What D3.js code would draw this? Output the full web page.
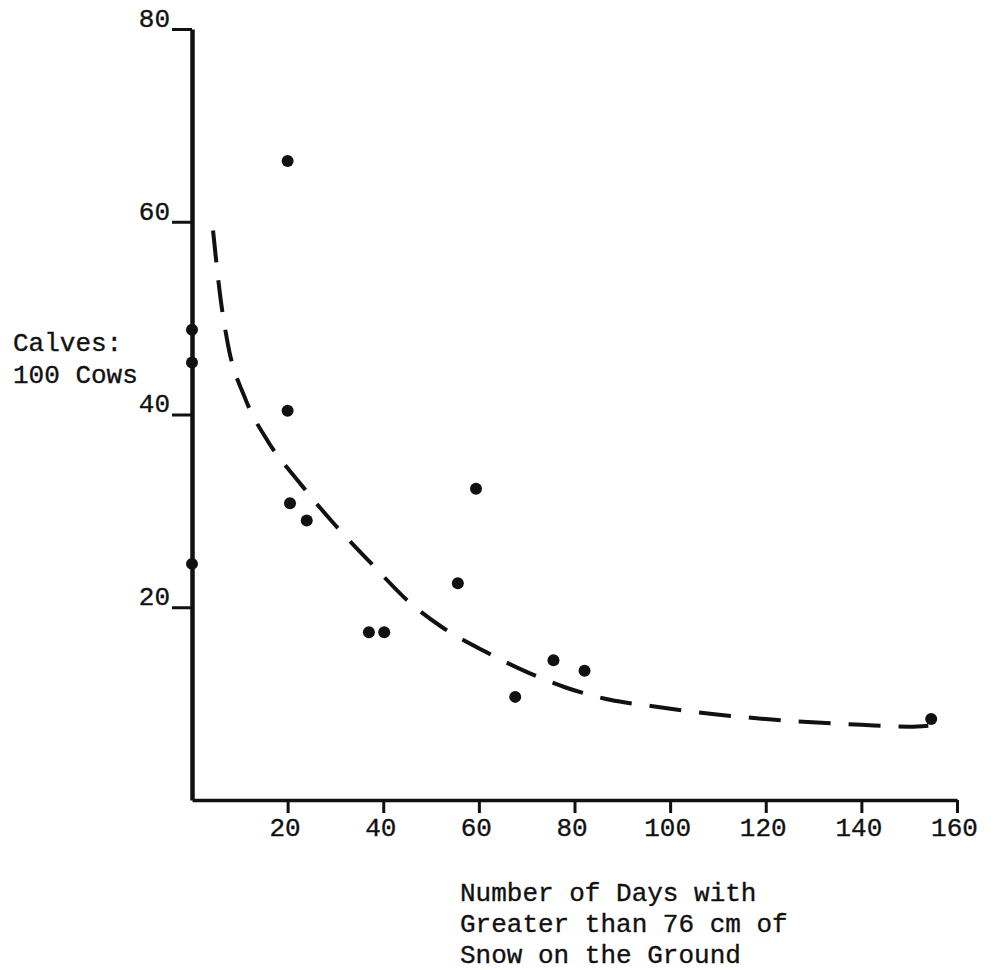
<!DOCTYPE html>
<html>
<head>
<meta charset="utf-8">
<script src="https://d3js.org/d3.v7.min.js"></script>
<style>
  body { margin: 0; background: #fff; }
  text { font-family: "Liberation Mono", "DejaVu Sans Mono", monospace; fill: #111; stroke: #111; stroke-width: 0.35px; }
</style>
</head>
<body>
<div id="scatter"></div>
<script>
// chart data
var daysSnow = [20, 0, 0, 0, 20, 20.5, 24, 37, 40.2, 55.6, 59.4, 67.6, 75.6, 82.1, 154.6];
var calvesPerCow = [66.3, 48.8, 45.4, 24.5, 40.4, 30.8, 29, 17.4, 17.4, 22.5, 32.3, 10.7, 14.5, 13.4, 8.4];

// fitted curve, dashed
var curveX = [4.4, 5.9, 7.5, 11.1, 15.9, 22.2, 29.1, 37.2, 46.2, 52.1, 61.3, 69.5, 78, 87.4, 96, 104, 120, 140, 150, 154];
var curveY = [59.1, 52.3, 47.3, 41.7, 37.2, 33.1, 29, 24.7, 20.2, 18, 15.4, 13.4, 11.7, 10.4, 9.75, 9.2, 8.4, 7.8, 7.6, 7.7];

var xTicks = [20, 40, 60, 80, 100, 120, 140, 160];
var yTicks = [20, 40, 60, 80];

var yLabelLines = ["Calves:", "100 Cows"];
var xLabelLines = ["Number of Days with", "Greater than 76 cm of", "Snow on the Ground"];

// svg size and margins
var svgWidth = 991;
var svgHeight = 970;

var margin = {
    top: 29,
    left: 192,
    right: 34,
    bottom: 170
};

var width = svgWidth - margin.left - margin.right;
var height = svgHeight - margin.top - margin.bottom;

var svg = d3.select("#scatter").append("svg")
    .attr("width", svgWidth)
    .attr("height", svgHeight);

var chartGroup = svg.append("g")
    .attr("transform", `translate(${margin.left}, ${margin.top})`);

// scales
var xLinearScale = d3.scaleLinear().domain([0, 160]).range([0, width]);
var yLinearScale = d3.scaleLinear().domain([0, 80]).range([height, 0]);

// x axis, ticks hang below the line
var bottomAxis = d3.axisBottom(xLinearScale)
    .tickValues(xTicks)
    .tickSize(13)
    .tickSizeOuter(0)
    .tickPadding(5)
    .tickFormat(d3.format("d"));

var xAxis = chartGroup.append("g")
    .attr("transform", `translate(0, ${height})`)
    .call(bottomAxis);

xAxis.select(".domain").attr("stroke", "#111").attr("stroke-width", 3.5);
xAxis.selectAll(".tick line").attr("stroke", "#111").attr("stroke-width", 3);
xAxis.selectAll(".tick text")
    .attr("font-size", 26)
    .attr("font-family", "Liberation Mono")
    .attr("fill", "#111")
    .attr("dx", -3);

// y axis, labels sit on the tick
var leftAxis = d3.axisLeft(yLinearScale)
    .tickValues(yTicks)
    .tickSize(20)
    .tickSizeOuter(0)
    .tickPadding(2)
    .tickFormat(d3.format("d"));

var yAxis = chartGroup.append("g").call(leftAxis);

yAxis.select(".domain").attr("stroke", "#111").attr("stroke-width", 4.5);
yAxis.selectAll(".tick line").attr("stroke", "#111").attr("stroke-width", 3);
yAxis.selectAll(".tick text")
    .attr("font-size", 26)
    .attr("font-family", "Liberation Mono")
    .attr("fill", "#111")
    .attr("dy", "-0.1em");

// dashed curve
var curvePoints = curveX.map((d, i) => [d, curveY[i]]);
var line = d3.line()
    .x(d => xLinearScale(d[0]))
    .y(d => yLinearScale(d[1]))
    .curve(d3.curveMonotoneX);

chartGroup.append("path")
    .datum(curvePoints)
    .attr("d", line)
    .attr("fill", "none")
    .attr("stroke", "#111")
    .attr("stroke-width", 4)
    .attr("stroke-dasharray", "32,18");

// points
var points = daysSnow.map((d, i) => ({ days: d, calves: calvesPerCow[i] }));
chartGroup.selectAll("circle")
    .data(points)
    .enter()
    .append("circle")
    .attr("cx", d => xLinearScale(d.days))
    .attr("cy", d => yLinearScale(d.calves))
    .attr("r", 6)
    .attr("fill", "#111");

// axis titles
svg.append("text")
    .attr("x", 13)
    .attr("y", 351)
    .attr("font-size", 26)
    .selectAll("tspan")
    .data(yLabelLines)
    .enter()
    .append("tspan")
    .attr("x", 13)
    .attr("dy", (d, i) => i === 0 ? 0 : 32)
    .text(d => d);

svg.append("text")
    .attr("x", 460)
    .attr("y", 901)
    .attr("font-size", 26)
    .selectAll("tspan")
    .data(xLabelLines)
    .enter()
    .append("tspan")
    .attr("x", 460)
    .attr("dy", (d, i) => i === 0 ? 0 : 31)
    .text(d => d);
</script>
</body>
</html>
